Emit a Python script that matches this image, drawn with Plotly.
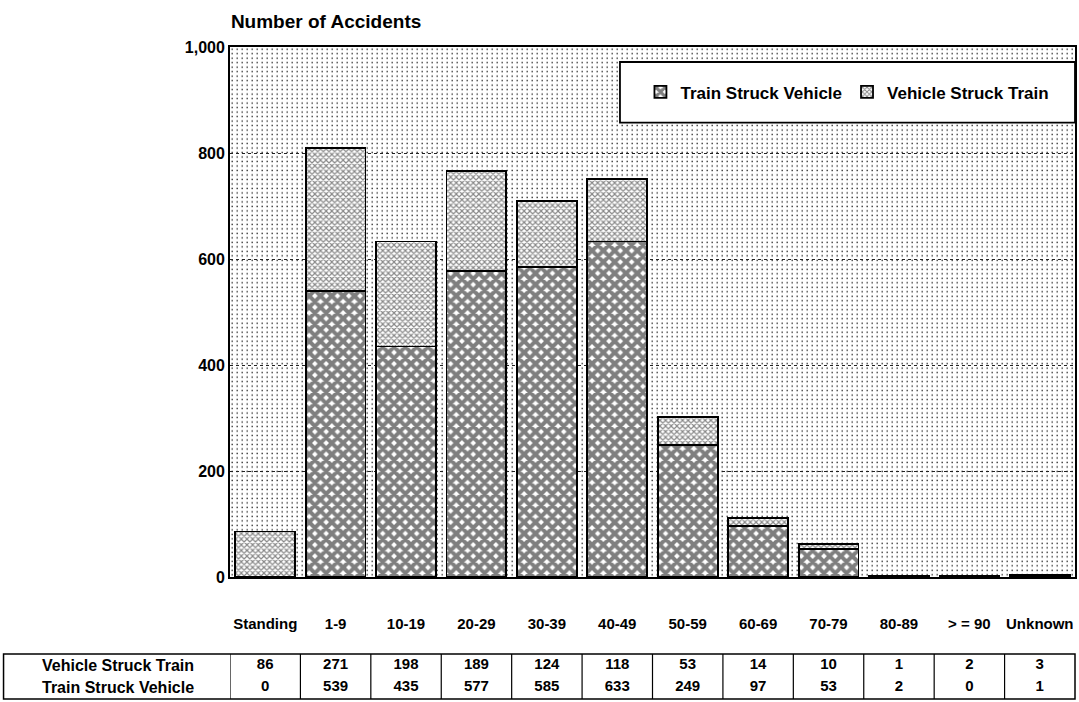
import base64

import plotly.graph_objects as go


CATEGORIAS = [
    "Standing",
    "1-9",
    "10-19",
    "20-29",
    "30-39",
    "40-49",
    "50-59",
    "60-69",
    "70-79",
    "80-89",
    "> = 90",
    "Unknown",
]

VEHICLE_STRUCK_TRAIN = [86, 271, 198, 189, 124, 118, 53, 14, 10, 1, 2, 3]
TRAIN_STRUCK_VEHICLE = [0, 539, 435, 577, 585, 633, 249, 97, 53, 2, 0, 1]

Y_TICKS = [0, 200, 400, 600, 800, 1000]
FILAS = ["Vehicle Struck Train", "Train Struck Vehicle"]

FUENTE = "Liberation Sans, Arial"


def fondo_punteado(ancho, alto):
    # Textura de puntos para el fondo del área de trazado.
    svg = (
        f'<svg xmlns="http://www.w3.org/2000/svg" width="{ancho}" height="{alto}" '
        f'viewBox="0 0 {ancho} {alto}" preserveAspectRatio="none">'
        '<defs><pattern id="p" width="5" height="4.5" patternUnits="userSpaceOnUse">'
        '<rect width="5" height="4.5" fill="#ffffff"/>'
        '<rect x="1.5" y="1.5" width="1.4" height="1.4" fill="#333333"/>'
        "</pattern></defs>"
        f'<rect width="{ancho}" height="{alto}" fill="url(#p)"/></svg>'
    )
    return "data:image/svg+xml;base64," + base64.b64encode(svg.encode()).decode()


fig = go.Figure()

fig.add_trace(
    go.Bar(
        x=CATEGORIAS,
        y=TRAIN_STRUCK_VEHICLE,
        name="Train Struck Vehicle",
        marker=dict(
            color="#ffffff",
            line=dict(color="#000000", width=1.8),
            pattern=dict(shape="x", size=8, solidity=0.75, fgcolor="#000000"),
        ),
    )
)

fig.add_trace(
    go.Bar(
        x=CATEGORIAS,
        y=VEHICLE_STRUCK_TRAIN,
        name="Vehicle Struck Train",
        marker=dict(
            color="#ffffff",
            line=dict(color="#000000", width=1.8),
            pattern=dict(shape="x", size=4, solidity=0.5, fgcolor="#111111"),
        ),
    )
)

# Valores de la tabla inferior.
for fila, valores in zip(FILAS, [VEHICLE_STRUCK_TRAIN, TRAIN_STRUCK_VEHICLE]):
    fig.add_trace(
        go.Scatter(
            x=CATEGORIAS,
            y=[fila] * len(CATEGORIAS),
            text=[str(v) for v in valores],
            mode="text",
            textfont=dict(family=FUENTE, size=15, color="#000000", weight="bold"),
            xaxis="x",
            yaxis="y2",
            showlegend=False,
            hoverinfo="skip",
        )
    )

# Etiquetas de las filas de la tabla.
for fila in FILAS:
    fig.add_annotation(
        x=-0.133,
        y=fila,
        xref="paper",
        yref="y2",
        xanchor="center",
        text=fila,
        showarrow=False,
        font=dict(family=FUENTE, size=16, color="#000000", weight="bold"),
    )

# Marco de la tabla.
fig.add_shape(
    type="rect",
    x0=-0.268,
    x1=1,
    y0=0,
    y1=1,
    xref="paper",
    yref="y2 domain",
    line=dict(color="#000000", width=1.5),
)

for i in range(len(CATEGORIAS)):
    fig.add_shape(
        type="line",
        x0=i - 0.5,
        x1=i - 0.5,
        y0=0,
        y1=1,
        xref="x",
        yref="y2 domain",
        line=dict(color="#000000", width=1.2),
    )

# Caja de la leyenda.
fig.add_shape(
    type="rect",
    x0=0.4615,
    x1=1,
    y0=0.884,
    y1=0.977,
    xref="paper",
    yref="paper",
    fillcolor="#ffffff",
    line=dict(color="#000000", width=1.8),
    layer="above",
)

fig.add_layout_image(
    source=fondo_punteado(845, 531),
    xref="paper",
    yref="y domain",
    x=0,
    y=1,
    sizex=1,
    sizey=1,
    sizing="stretch",
    xanchor="left",
    yanchor="top",
    layer="below",
)

fig.update_xaxes(
    type="category",
    categoryarray=CATEGORIAS,
    range=[-0.5, len(CATEGORIAS) - 0.5],
    showline=True,
    linecolor="#000000",
    linewidth=1.8,
    mirror=True,
    showgrid=False,
    ticks="",
    ticklabelstandoff=32,
    tickfont=dict(family=FUENTE, size=15, color="#000000", weight="bold"),
    anchor="y",
)

fig.update_layout(
    yaxis=dict(
        domain=[0.187, 1],
        range=[0, 1000],
        tickvals=Y_TICKS,
        tickformat=",",
        showline=True,
        linecolor="#000000",
        linewidth=1.8,
        mirror=True,
        showgrid=True,
        gridcolor="#222222",
        griddash="dot",
        gridwidth=1,
        zeroline=False,
        ticks="",
        tickfont=dict(family=FUENTE, size=16, color="#000000", weight="bold"),
    ),
    yaxis2=dict(
        domain=[0, 0.069],
        type="category",
        categoryarray=FILAS[::-1],
        range=[-0.5, 1.5],
        showticklabels=False,
        showgrid=False,
        zeroline=False,
        anchor="x",
    ),
    barmode="stack",
    bargap=0.15,
    width=1079,
    height=710,
    margin=dict(l=230, r=4, t=47, b=2),
    plot_bgcolor="rgba(0,0,0,0)",
    paper_bgcolor="#ffffff",
    font=dict(family=FUENTE, color="#000000"),
    title=dict(
        text="Number of Accidents",
        x=0.214,
        xanchor="left",
        y=0.97,
        yanchor="middle",
        font=dict(family=FUENTE, size=19, color="#000000", weight="bold"),
    ),
    legend=dict(
        orientation="h",
        x=0.7307,
        xanchor="center",
        y=0.9305,
        yanchor="middle",
        bgcolor="rgba(0,0,0,0)",
        borderwidth=0,
        font=dict(family=FUENTE, size=17, color="#000000", weight="bold"),
        itemwidth=30,
        traceorder="normal",
    ),
)

fig.write_html(
    "out.html",
    config={"displayModeBar": False},
    post_script="document.body.style.margin = '0';",
)
